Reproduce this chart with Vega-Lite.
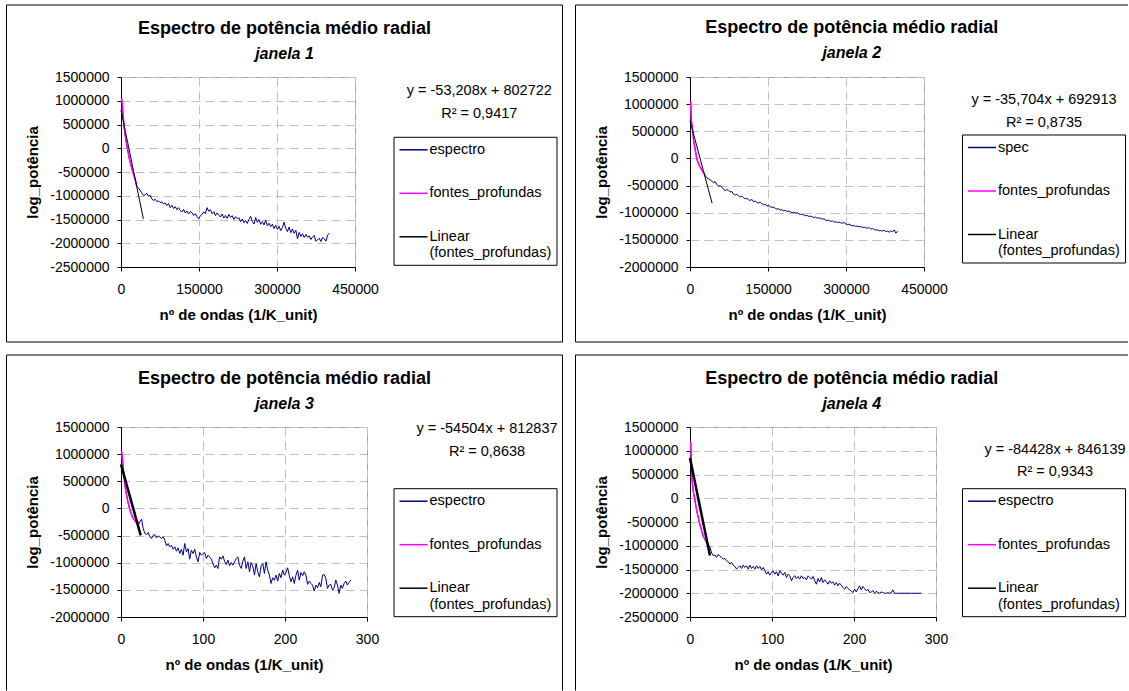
{
"$schema": "https://vega.github.io/schema/vega-lite/v6.json",
"background": "white",
"padding": {"left": 5, "top": 3, "right": 0, "bottom": 0},
"config": {
 "font": "Liberation Sans",
 "view": {"stroke": "#a0a0a0", "strokeWidth": 1},
 "axis": {"domainColor": "#000", "tickColor": "#000", "tickSize": 4, "labelColor": "#000", "labelFontSize": 14, "titleFontSize": 15, "titleFontWeight": "bold", "titleColor": "#000", "gridColor": "#c0c0c0", "gridDash": [9, 5], "labelFlush": false},
 "axisX": {"labelPadding": 11, "titlePadding": 11},
 "axisY": {"labelPadding": 8, "titlePadding": 9},
 "legend": {"orient": "none", "title": null, "strokeColor": "#000", "fillColor": "#fff", "padding": 5, "symbolType": "M-2,0H2", "symbolSize": 196, "symbolOffset": 7, "symbolStrokeWidth": 1.5, "labelFontSize": 14.5, "labelColor": "#000", "labelOffset": 8, "rowPadding": 28.5, "labelLimit": 0},
 "title": {"fontSize": 18, "fontWeight": "bold", "color": "#000", "subtitleFontSize": 16, "subtitleFontStyle": "italic", "subtitleFontWeight": "bold", "subtitleColor": "#000", "subtitlePadding": 8, "anchor": "middle", "frame": "bounds", "offset": -57},
 "text": {"fontSize": 14.5, "color": "#000"}
},
"datasets": {
 "f1": [{"x":1300,"y":1042000},{"x":2600,"y":915000},{"x":4500,"y":632000},{"x":6400,"y":420000},{"x":9000,"y":208000},{"x":11600,"y":31000},{"x":14200,"y":-111000},{"x":17400,"y":-288000},{"x":20600,"y":-415000},{"x":23800,"y":-535000},{"x":27000,"y":-642000},{"x":30300,"y":-797000},{"x":31500,"y":-818000}],
 "e1": [{"x":1300,"y":1042000},{"x":2600,"y":915000},{"x":4500,"y":632000},{"x":6400,"y":420000},{"x":9000,"y":208000},{"x":11600,"y":31000},{"x":14200,"y":-111000},{"x":17400,"y":-288000},{"x":20600,"y":-415000},{"x":23800,"y":-535000},{"x":27000,"y":-642000},{"x":30300,"y":-797000},{"x":31500,"y":-818000},
 {"x":33500,"y":-839700},{"x":36720,"y":-882100},{"x":39940,"y":-938700},{"x":43160,"y":-995300},{"x":46380,"y":-981200},{"x":49600,"y":-945800},{"x":52820,"y":-1009500},{"x":56040,"y":-988300},{"x":59260,"y":-1066100},{"x":62480,"y":-1101500},
 {"x":65700,"y":-1073200},{"x":68920,"y":-1122700},{"x":72140,"y":-1108600},{"x":75360,"y":-1144000},{"x":78580,"y":-1129800},{"x":81800,"y":-1172200},{"x":85020,"y":-1151000},{"x":88240,"y":-1207600},{"x":91460,"y":-1165100},{"x":94680,"y":-1250000},
 {"x":97900,"y":-1200500},{"x":101120,"y":-1271200},{"x":104340,"y":-1228800},{"x":107560,"y":-1292500},{"x":110780,"y":-1250000},{"x":114000,"y":-1313700},{"x":117220,"y":-1342000},{"x":120440,"y":-1285400},{"x":123660,"y":-1363200},{"x":126880,"y":-1320800},
 {"x":130100,"y":-1384500},{"x":133320,"y":-1335000},{"x":136540,"y":-1356200},{"x":139760,"y":-1412800},{"x":142980,"y":-1377400},{"x":146200,"y":-1441100},{"x":149420,"y":-1483500},{"x":152640,"y":-1419900},{"x":155860,"y":-1391600},{"x":159080,"y":-1342000},
 {"x":162300,"y":-1370300},{"x":165520,"y":-1250000},{"x":168740,"y":-1327900},{"x":171960,"y":-1292500},{"x":175180,"y":-1377400},{"x":178400,"y":-1335000},{"x":181620,"y":-1419900},{"x":184840,"y":-1363200},{"x":188060,"y":-1405700},{"x":191280,"y":-1448100},
 {"x":194500,"y":-1384500},{"x":197720,"y":-1469400},{"x":200940,"y":-1412800},{"x":204160,"y":-1476400},{"x":207380,"y":-1391600},{"x":210600,"y":-1455200},{"x":213820,"y":-1419900},{"x":217040,"y":-1497700},{"x":220260,"y":-1441100},{"x":223480,"y":-1483500},
 {"x":226700,"y":-1462300},{"x":229920,"y":-1547200},{"x":233140,"y":-1490600},{"x":236360,"y":-1568400},{"x":239580,"y":-1518900},{"x":242800,"y":-1582600},{"x":246020,"y":-1497700},{"x":249240,"y":-1434000},{"x":252460,"y":-1540100},{"x":255680,"y":-1596700},
 {"x":258900,"y":-1458900},{"x":262120,"y":-1557900},{"x":265340,"y":-1501300},{"x":268560,"y":-1600400},{"x":271780,"y":-1543800},{"x":275000,"y":-1614500},{"x":278220,"y":-1515500},{"x":281440,"y":-1628700},{"x":284660,"y":-1579200},{"x":287880,"y":-1649900},
 {"x":291100,"y":-1600400},{"x":294320,"y":-1692400},{"x":297540,"y":-1621600},{"x":300760,"y":-1706500},{"x":303980,"y":-1642900},{"x":307200,"y":-1734800},{"x":310420,"y":-1671100},{"x":313640,"y":-1557900},{"x":316860,"y":-1685300},{"x":320080,"y":-1756000},
 {"x":323300,"y":-1656900},{"x":326520,"y":-1777300},{"x":329740,"y":-1699500},{"x":332960,"y":-1791400},{"x":336180,"y":-1727700},{"x":339400,"y":-1906300},{"x":342620,"y":-1771800},{"x":345840,"y":-1856700},{"x":349060,"y":-1800200},{"x":352280,"y":-1878000},
 {"x":355500,"y":-1816000},{"x":358720,"y":-1872500},{"x":361940,"y":-1844200},{"x":365160,"y":-1922100},{"x":368380,"y":-1865600},{"x":371600,"y":-1837300},{"x":374820,"y":-1957600},{"x":378040,"y":-1929300},{"x":381260,"y":-1893900},{"x":384480,"y":-1964700},
 {"x":387700,"y":-1872500},{"x":390920,"y":-1908000},{"x":394140,"y":-1957600},{"x":397360,"y":-1830200},{"x":400580,"y":-1787700}],
 "t1": [{"x":0,"y":802722},{"x":43000,"y":-1485222}],
 "f2": [{"x":1290,"y":1049000},{"x":1930,"y":803000},{"x":3220,"y":649000},{"x":4510,"y":557000},{"x":5790,"y":464000},{"x":7080,"y":310000},{"x":9010,"y":218000},{"x":10950,"y":113000},{"x":12880,"y":2000},{"x":14810,"y":-59000},{"x":16740,"y":-108000},{"x":19310,"y":-151000},{"x":21890,"y":-195000},{"x":24460,"y":-244000},{"x":27040,"y":-275000},{"x":28970,"y":-318000},{"x":30900,"y":-342000}],
 "e2": [{"x":1290,"y":1049000},{"x":1930,"y":803000},{"x":3220,"y":649000},{"x":4510,"y":557000},{"x":5790,"y":464000},{"x":7080,"y":310000},{"x":9010,"y":218000},{"x":10950,"y":113000},{"x":12880,"y":2000},{"x":14810,"y":-59000},{"x":16740,"y":-108000},{"x":19310,"y":-151000},{"x":21890,"y":-195000},{"x":24460,"y":-244000},{"x":27040,"y":-275000},{"x":28970,"y":-318000},{"x":30900,"y":-342000},
 {"x":32190,"y":-354700},{"x":35410,"y":-373200},{"x":38630,"y":-391700},{"x":41850,"y":-416300},{"x":45070,"y":-447100},{"x":48290,"y":-428600},{"x":51500,"y":-477900},{"x":54720,"y":-514800},{"x":57940,"y":-496300},{"x":61160,"y":-533300},
 {"x":64380,"y":-557900},{"x":67600,"y":-601000},{"x":70820,"y":-570200},{"x":74040,"y":-588700},{"x":77260,"y":-619500},{"x":80480,"y":-607200},{"x":83690,"y":-656400},{"x":86910,"y":-674900},{"x":90130,"y":-662600},{"x":93350,"y":-687200},
 {"x":96570,"y":-711900},{"x":99790,"y":-693400},{"x":103010,"y":-724200},{"x":106230,"y":-742700},{"x":109450,"y":-736400},{"x":112670,"y":-761100},{"x":115880,"y":-773400},{"x":119100,"y":-754900},{"x":122320,"y":-798000},{"x":125540,"y":-785700},
 {"x":128760,"y":-810300},{"x":131980,"y":-822600},{"x":135200,"y":-804100},{"x":138420,"y":-835000},{"x":141640,"y":-853400},{"x":144860,"y":-841100},{"x":148070,"y":-878100},{"x":151290,"y":-865800},{"x":154510,"y":-890400},{"x":157730,"y":-902700},
 {"x":160950,"y":-896500},{"x":164170,"y":-921200},{"x":167390,"y":-933500},{"x":170610,"y":-927300},{"x":173830,"y":-952000},{"x":177050,"y":-945800},{"x":180260,"y":-964300},{"x":183480,"y":-958100},{"x":186700,"y":-976600},{"x":189920,"y":-970400},
 {"x":193140,"y":-983000},{"x":196360,"y":-1001200},{"x":199580,"y":-988900},{"x":202800,"y":-1007400},{"x":206020,"y":-1001200},{"x":209240,"y":-1019700},{"x":212450,"y":-1032000},{"x":215670,"y":-1025800},{"x":218890,"y":-1044300},{"x":222110,"y":-1056600},
 {"x":225330,"y":-1050500},{"x":228550,"y":-1068900},{"x":231770,"y":-1062800},{"x":234990,"y":-1075100},{"x":238210,"y":-1087400},{"x":241430,"y":-1081300},{"x":244640,"y":-1099700},{"x":247860,"y":-1093600},{"x":251080,"y":-1106000},{"x":254300,"y":-1118300},
 {"x":257520,"y":-1112100},{"x":260740,"y":-1136700},{"x":263960,"y":-1142900},{"x":267180,"y":-1136700},{"x":270400,"y":-1161300},{"x":273620,"y":-1149000},{"x":276830,"y":-1173600},{"x":280050,"y":-1167500},{"x":283270,"y":-1179800},{"x":286490,"y":-1173600},
 {"x":289710,"y":-1186000},{"x":292930,"y":-1192100},{"x":296150,"y":-1179800},{"x":299370,"y":-1204400},{"x":302590,"y":-1216800},{"x":305810,"y":-1210600},{"x":309020,"y":-1229100},{"x":312240,"y":-1241400},{"x":315460,"y":-1235200},{"x":318680,"y":-1253700},
 {"x":321900,"y":-1247500},{"x":325120,"y":-1259800},{"x":328340,"y":-1253700},{"x":331560,"y":-1272200},{"x":334780,"y":-1266000},{"x":338000,"y":-1278300},{"x":341210,"y":-1284500},{"x":344430,"y":-1272200},{"x":347650,"y":-1303200},{"x":350870,"y":-1290900},
 {"x":354090,"y":-1309400},{"x":357310,"y":-1321700},{"x":360530,"y":-1315500},{"x":363750,"y":-1334000},{"x":366970,"y":-1327900},{"x":370190,"y":-1340200},{"x":373400,"y":-1321700},{"x":376620,"y":-1346300},{"x":379840,"y":-1340200},{"x":383060,"y":-1358700},
 {"x":386280,"y":-1334000},{"x":389500,"y":-1352500},{"x":392720,"y":-1315500},{"x":395940,"y":-1377000},{"x":399160,"y":-1340200}],
 "t2": [{"x":0,"y":692913},{"x":42500,"y":-824507}],
 "f3": [{"x":0.8,"y":1049000},{"x":2.0,"y":853000},{"x":3.2,"y":669000},{"x":4.5,"y":486000},{"x":5.7,"y":333000},{"x":6.9,"y":241000},{"x":8.1,"y":149000},{"x":9.3,"y":69000},{"x":10.5,"y":-4000},{"x":11.7,"y":-65000},{"x":13.0,"y":-114000},{"x":14.2,"y":-163000},{"x":15.4,"y":-200000},{"x":17.0,"y":-224000},{"x":18.6,"y":-261000},{"x":20.2,"y":-237000},{"x":21.9,"y":-280000},{"x":23.1,"y":-249000}],
 "e3": [{"x":0.8,"y":1049000},{"x":2.0,"y":853000},{"x":3.2,"y":669000},{"x":4.5,"y":486000},{"x":5.7,"y":333000},{"x":6.9,"y":241000},{"x":8.1,"y":149000},{"x":9.3,"y":69000},{"x":10.5,"y":-4000},{"x":11.7,"y":-65000},{"x":13.0,"y":-114000},{"x":14.2,"y":-163000},{"x":15.4,"y":-200000},{"x":17.0,"y":-224000},{"x":18.6,"y":-261000},{"x":20.2,"y":-237000},{"x":21.9,"y":-280000},
 {"x":23.1,"y":-236700},{"x":25.1,"y":-199800},{"x":27.1,"y":-371400},{"x":29.2,"y":-463200},{"x":31.2,"y":-481800},{"x":33.2,"y":-445000},{"x":35.2,"y":-524500},{"x":37.2,"y":-555100},{"x":39.3,"y":-493900},{"x":41.3,"y":-481800},
 {"x":43.3,"y":-542800},{"x":45.3,"y":-506100},{"x":47.4,"y":-524500},{"x":49.4,"y":-555100},{"x":51.4,"y":-518400},{"x":53.4,"y":-585700},{"x":55.5,"y":-689800},{"x":57.5,"y":-646900},{"x":59.5,"y":-708100},{"x":61.5,"y":-677500},
 {"x":63.6,"y":-751000},{"x":65.6,"y":-708100},{"x":67.6,"y":-787700},{"x":69.6,"y":-726500},{"x":71.7,"y":-830600},{"x":73.7,"y":-751000},{"x":75.7,"y":-861200},{"x":77.7,"y":-646900},{"x":79.8,"y":-800000},{"x":81.8,"y":-738800},
 {"x":83.8,"y":-934700},{"x":85.8,"y":-769400},{"x":87.9,"y":-830600},{"x":89.9,"y":-751000},{"x":91.9,"y":-891800},{"x":93.9,"y":-983700},{"x":96.0,"y":-812200},{"x":98.0,"y":-861200},{"x":100.0,"y":-830600},{"x":102.0,"y":-812200},
 {"x":104.1,"y":-922400},{"x":106.1,"y":-861200},{"x":108.1,"y":-891800},{"x":110.1,"y":-934700},{"x":112.1,"y":-1014300},{"x":114.2,"y":-1093900},{"x":116.2,"y":-1044900},{"x":118.2,"y":-1106100},{"x":120.2,"y":-891800},{"x":122.3,"y":-934700},
 {"x":124.3,"y":-873400},{"x":126.3,"y":-971400},{"x":128.3,"y":-1032600},{"x":130.4,"y":-953000},{"x":132.4,"y":-1057100},{"x":134.4,"y":-995900},{"x":136.4,"y":-1044900},{"x":138.5,"y":-983700},{"x":140.5,"y":-922400},{"x":142.5,"y":-891800},
 {"x":144.5,"y":-1044900},{"x":146.6,"y":-1106100},{"x":148.6,"y":-971400},{"x":150.6,"y":-891800},{"x":152.6,"y":-1106100},{"x":154.7,"y":-983700},{"x":156.7,"y":-1167300},{"x":158.7,"y":-995900},{"x":160.7,"y":-1057100},{"x":162.8,"y":-1228600},
 {"x":164.8,"y":-1014300},{"x":166.8,"y":-1167300},{"x":168.8,"y":-1259200},{"x":170.9,"y":-1057100},{"x":172.9,"y":-1014300},{"x":174.9,"y":-1197900},{"x":176.9,"y":-983700},{"x":179.0,"y":-1136700},{"x":181.0,"y":-1228600},{"x":183.0,"y":-1381600},
 {"x":185.0,"y":-1277500},{"x":187.0,"y":-1320400},{"x":189.1,"y":-1228600},{"x":191.1,"y":-1338800},{"x":193.1,"y":-1197900},{"x":195.1,"y":-1277500},{"x":197.2,"y":-1136700},{"x":199.2,"y":-1228600},{"x":201.2,"y":-1179600},{"x":203.2,"y":-1093900},
 {"x":205.3,"y":-1240800},{"x":207.3,"y":-1351000},{"x":209.3,"y":-1259200},{"x":211.3,"y":-1381600},{"x":213.4,"y":-1228600},{"x":215.4,"y":-1136700},{"x":217.4,"y":-1320400},{"x":219.4,"y":-1179600},{"x":221.5,"y":-1240800},{"x":223.5,"y":-1167300},
 {"x":225.5,"y":-1228600},{"x":227.5,"y":-1400000},{"x":229.6,"y":-1338800},{"x":231.6,"y":-1381600},{"x":233.6,"y":-1412200},{"x":235.6,"y":-1522400},{"x":237.7,"y":-1412200},{"x":239.7,"y":-1461200},{"x":241.7,"y":-1363200},{"x":243.7,"y":-1442800},
 {"x":245.8,"y":-1228600},{"x":247.8,"y":-1216300},{"x":249.8,"y":-1289800},{"x":251.8,"y":-1473500},{"x":253.9,"y":-1412200},{"x":255.9,"y":-1400000},{"x":257.9,"y":-1504100},{"x":259.9,"y":-1461200},{"x":262.0,"y":-1320400},{"x":264.0,"y":-1412200},
 {"x":266.0,"y":-1565300},{"x":268.0,"y":-1412200},{"x":270.0,"y":-1473500},{"x":272.1,"y":-1381600},{"x":274.1,"y":-1338800},{"x":276.1,"y":-1412200},{"x":278.1,"y":-1363200},{"x":280.2,"y":-1320400}],
 "t3": [{"x":0,"y":812837},{"x":24,"y":-495259}],
 "f4": [{"x":0.8,"y":1190600},{"x":1.2,"y":908000},{"x":2.0,"y":626000},{"x":2.8,"y":344000},{"x":3.7,"y":167000},{"x":4.5,"y":96000},{"x":5.7,"y":-9000},{"x":6.9,"y":-136000},{"x":8.1,"y":-256000},{"x":9.7,"y":-376000},{"x":11.4,"y":-503000},{"x":13.0,"y":-609000},{"x":14.6,"y":-715000},{"x":16.2,"y":-800000},{"x":18.3,"y":-871000},{"x":20.3,"y":-927000},{"x":21.9,"y":-955000}],
 "e4": [{"x":0.8,"y":1190600},{"x":1.2,"y":908000},{"x":2.0,"y":626000},{"x":2.8,"y":344000},{"x":3.7,"y":167000},{"x":4.5,"y":96000},{"x":5.7,"y":-9000},{"x":6.9,"y":-136000},{"x":8.1,"y":-256000},{"x":9.7,"y":-376000},{"x":11.4,"y":-503000},{"x":13.0,"y":-609000},{"x":14.6,"y":-715000},{"x":16.2,"y":-800000},{"x":18.3,"y":-871000},{"x":20.3,"y":-927000},{"x":21.9,"y":-955000},
 {"x":22.3,"y":-962400},{"x":24.3,"y":-1033000},{"x":26.4,"y":-1152900},{"x":28.4,"y":-1209400},{"x":30.4,"y":-1195300},{"x":32.4,"y":-1244700},{"x":34.5,"y":-1181200},{"x":36.5,"y":-1223500},{"x":38.5,"y":-1244700},{"x":40.6,"y":-1280000},
 {"x":42.6,"y":-1265900},{"x":44.6,"y":-1315300},{"x":46.6,"y":-1336500},{"x":48.7,"y":-1385900},{"x":50.7,"y":-1350600},{"x":52.7,"y":-1407100},{"x":54.7,"y":-1435300},{"x":56.8,"y":-1491800},{"x":58.8,"y":-1456500},{"x":60.8,"y":-1421200},
 {"x":62.9,"y":-1477700},{"x":64.9,"y":-1407100},{"x":66.9,"y":-1456500},{"x":68.9,"y":-1421200},{"x":71.0,"y":-1491800},{"x":73.0,"y":-1407100},{"x":75.0,"y":-1477700},{"x":77.1,"y":-1435300},{"x":79.1,"y":-1491800},{"x":81.1,"y":-1421200},
 {"x":83.1,"y":-1477700},{"x":85.2,"y":-1435300},{"x":87.2,"y":-1506000},{"x":89.2,"y":-1456500},{"x":91.3,"y":-1527100},{"x":93.3,"y":-1597700},{"x":95.3,"y":-1548300},{"x":97.3,"y":-1618900},{"x":99.4,"y":-1562400},{"x":101.4,"y":-1527100},
 {"x":103.4,"y":-1597700},{"x":105.5,"y":-1548300},{"x":107.5,"y":-1633000},{"x":109.5,"y":-1527100},{"x":111.5,"y":-1576500},{"x":113.6,"y":-1618900},{"x":115.6,"y":-1562400},{"x":117.6,"y":-1668300},{"x":119.6,"y":-1597700},{"x":121.7,"y":-1633000},
 {"x":123.7,"y":-1738900},{"x":125.7,"y":-1668300},{"x":127.8,"y":-1633000},{"x":129.8,"y":-1689400},{"x":131.8,"y":-1647100},{"x":133.8,"y":-1703600},{"x":135.9,"y":-1633000},{"x":137.9,"y":-1689400},{"x":139.9,"y":-1668300},{"x":142.0,"y":-1717700},
 {"x":144.0,"y":-1633000},{"x":146.0,"y":-1668300},{"x":148.0,"y":-1703600},{"x":150.1,"y":-1647100},{"x":152.1,"y":-1738900},{"x":154.1,"y":-1809400},{"x":156.1,"y":-1689400},{"x":158.2,"y":-1760000},{"x":160.2,"y":-1668300},{"x":162.2,"y":-1774100},
 {"x":164.3,"y":-1717700},{"x":166.3,"y":-1760000},{"x":168.3,"y":-1809400},{"x":170.3,"y":-1738900},{"x":172.4,"y":-1788300},{"x":174.4,"y":-1760000},{"x":176.4,"y":-1830600},{"x":178.5,"y":-1774100},{"x":180.5,"y":-1844700},{"x":182.5,"y":-1788300},
 {"x":184.5,"y":-1830600},{"x":186.6,"y":-1880000},{"x":188.6,"y":-1915300},{"x":190.6,"y":-1858800},{"x":192.7,"y":-1901200},{"x":194.7,"y":-1929400},{"x":196.7,"y":-1950600},{"x":198.7,"y":-1985900},{"x":200.8,"y":-1915300},{"x":202.8,"y":-1971800},
 {"x":204.8,"y":-1901200},{"x":206.8,"y":-1844700},{"x":208.9,"y":-1929400},{"x":210.9,"y":-1858800},{"x":212.9,"y":-1901200},{"x":215.0,"y":-1950600},{"x":217.0,"y":-1915300},{"x":219.0,"y":-1985900},{"x":221.0,"y":-1971800},{"x":223.1,"y":-1943500},
 {"x":225.1,"y":-2000000},{"x":227.1,"y":-1957600},{"x":229.2,"y":-1985900},{"x":231.2,"y":-2000000},{"x":233.2,"y":-1971800},{"x":235.2,"y":-1985900},{"x":237.3,"y":-2000000},{"x":239.3,"y":-2000000},{"x":241.3,"y":-1985900},{"x":243.4,"y":-2000000},
 {"x":245.4,"y":-1985900},{"x":247.4,"y":-1929400},{"x":249.4,"y":-2000000},{"x":251.5,"y":-2000000},{"x":260.0,"y":-2000000},{"x":270.0,"y":-2000000},{"x":282.0,"y":-2000000}],
 "t4": [{"x":0,"y":846139},{"x":24.3,"y":-1205461}]
},
"spacing": 9,
"resolve": {"scale": {"x": "independent", "y": "independent", "color": "independent"}, "legend": {"color": "independent"}},
"vconcat": [
 {"spacing": 10,
  "resolve": {"scale": {"x": "independent", "y": "independent", "color": "independent"}, "legend": {"color": "independent"}},
  "hconcat": [
  {"width": 234, "height": 190,
   "title": {"text": "Espectro de potência médio radial", "subtitle": "janela 1"},
   "resolve": {"axis": {"x": "independent", "y": "independent"}},
   "layer": [
    {"data": {"name": "e1"}, "mark": {"type": "line", "strokeWidth": 1},
     "encoding": {
      "x": {"field": "x", "type": "quantitative", "scale": {"domain": [0, 450000], "nice": false}, "axis": {"values": [0, 150000, 300000, 450000], "title": "nº de ondas (1/K_unit)", "labelExpr": "'' + datum.value", "labelOverlap": false}},
      "y": {"field": "y", "type": "quantitative", "scale": {"domain": [-2500000, 1500000], "nice": false}, "axis": {"values": [-2500000, -2000000, -1500000, -1000000, -500000, 0, 500000, 1000000, 1500000], "title": "log_potência", "labelExpr": "'' + datum.value", "labelOverlap": false}},
      "color": {"datum": "espectro", "type": "nominal", "scale": {"domain": ["espectro", "fontes_profundas", "Linear (fontes_profundas)"], "range": ["#000080", "#ff00ff", "#000000"]}, "legend": {"legendX": 272.5, "legendY": 59.8, "labelExpr": "datum.label == 'Linear (fontes_profundas)' ? ['Linear', '(fontes_profundas)'] : datum.label"}}}},
    {"data": {"name": "f1"}, "mark": {"type": "line", "strokeWidth": 1.5}, "encoding": {"x": {"field": "x", "type": "quantitative", "axis": null}, "y": {"field": "y", "type": "quantitative", "axis": null}, "color": {"datum": "fontes_profundas", "type": "nominal"}}},
    {"data": {"name": "t1"}, "mark": {"type": "line", "strokeWidth": 1}, "encoding": {"x": {"field": "x", "type": "quantitative", "axis": null}, "y": {"field": "y", "type": "quantitative", "axis": null}, "color": {"datum": "Linear (fontes_profundas)", "type": "nominal"}}},
    {"data": {"values": [{}]}, "mark": {"type": "rect", "filled": false, "color": "#000", "strokeWidth": 1}, "encoding": {"x": {"datum": -220192, "type": "quantitative", "axis": null}, "x2": {"datum": 849038}, "y": {"datum": 3015789, "type": "quantitative", "axis": null}, "y2": {"datum": -4078947}}},
    {"data": {"values": [{"t": "y = -53,208x + 802722"}]}, "mark": {"type": "text"}, "encoding": {"x": {"datum": 689039, "type": "quantitative", "axis": null}, "y": {"datum": 1211579, "type": "quantitative", "axis": null}, "text": {"field": "t"}}},
    {"data": {"values": [{"t": "R² = 0,9417"}]}, "mark": {"type": "text"}, "encoding": {"x": {"datum": 689039, "type": "quantitative", "axis": null}, "y": {"datum": 721053, "type": "quantitative", "axis": null}, "text": {"field": "t"}}}
   ]},
  {"width": 234, "height": 190,
   "title": {"text": "Espectro de potência médio radial", "subtitle": "janela 2"},
   "resolve": {"axis": {"x": "independent", "y": "independent"}},
   "layer": [
    {"data": {"name": "e2"}, "mark": {"type": "line", "strokeWidth": 1},
     "encoding": {
      "x": {"field": "x", "type": "quantitative", "scale": {"domain": [0, 450000], "nice": false}, "axis": {"values": [0, 150000, 300000, 450000], "title": "nº de ondas (1/K_unit)", "labelExpr": "'' + datum.value", "labelOverlap": false}},
      "y": {"field": "y", "type": "quantitative", "scale": {"domain": [-2000000, 1500000], "nice": false}, "axis": {"values": [-2000000, -1500000, -1000000, -500000, 0, 500000, 1000000, 1500000], "title": "log_potência", "labelExpr": "'' + datum.value", "labelOverlap": false}},
      "color": {"datum": "spec", "type": "nominal", "scale": {"domain": ["spec", "fontes_profundas", "Linear (fontes_profundas)"], "range": ["#000080", "#ff00ff", "#000000"]}, "legend": {"legendX": 272, "legendY": 57.5, "labelExpr": "datum.label == 'Linear (fontes_profundas)' ? ['Linear', '(fontes_profundas)'] : datum.label"}}}},
    {"data": {"name": "f2"}, "mark": {"type": "line", "strokeWidth": 1.5}, "encoding": {"x": {"field": "x", "type": "quantitative", "axis": null}, "y": {"field": "y", "type": "quantitative", "axis": null}, "color": {"datum": "fontes_profundas", "type": "nominal"}}},
    {"data": {"name": "t2"}, "mark": {"type": "line", "strokeWidth": 1}, "encoding": {"x": {"field": "x", "type": "quantitative", "axis": null}, "y": {"field": "y", "type": "quantitative", "axis": null}, "color": {"datum": "Linear (fontes_profundas)", "type": "nominal"}}},
    {"data": {"values": [{}]}, "mark": {"type": "rule", "color": "#000", "strokeWidth": 1}, "encoding": {"x": {"datum": -220192, "type": "quantitative", "axis": null}, "x2": {"datum": 842308}, "y": {"datum": 2826316, "type": "quantitative", "axis": null}}},
    {"data": {"values": [{}]}, "mark": {"type": "rule", "color": "#000", "strokeWidth": 1}, "encoding": {"x": {"datum": -220192, "type": "quantitative", "axis": null}, "x2": {"datum": 842308}, "y": {"datum": -3381579, "type": "quantitative", "axis": null}}},
    {"data": {"values": [{}]}, "mark": {"type": "rule", "color": "#000", "strokeWidth": 1}, "encoding": {"x": {"datum": -220192, "type": "quantitative", "axis": null}, "y": {"datum": 2826316, "type": "quantitative", "axis": null}, "y2": {"datum": -3381579}}},
    {"data": {"values": [{"t": "y = -35,704x + 692913"}]}, "mark": {"type": "text"}, "encoding": {"x": {"datum": 680769, "type": "quantitative", "axis": null}, "y": {"datum": 1076316, "type": "quantitative", "axis": null}, "text": {"field": "t"}}},
    {"data": {"values": [{"t": "R² = 0,8735"}]}, "mark": {"type": "text"}, "encoding": {"x": {"datum": 680769, "type": "quantitative", "axis": null}, "y": {"datum": 647105, "type": "quantitative", "axis": null}, "text": {"field": "t"}}}
   ]}
  ]},
 {"spacing": 10,
  "resolve": {"scale": {"x": "independent", "y": "independent", "color": "independent"}, "legend": {"color": "independent"}},
  "hconcat": [
  {"width": 246, "height": 190,
   "title": {"text": "Espectro de potência médio radial", "subtitle": "janela 3"},
   "resolve": {"axis": {"x": "independent", "y": "independent"}},
   "layer": [
    {"data": {"name": "e3"}, "mark": {"type": "line", "strokeWidth": 1},
     "encoding": {
      "x": {"field": "x", "type": "quantitative", "scale": {"domain": [0, 300], "nice": false}, "axis": {"values": [0, 100, 200, 300], "title": "nº de ondas (1/K_unit)", "labelExpr": "'' + datum.value", "labelOverlap": false}},
      "y": {"field": "y", "type": "quantitative", "scale": {"domain": [-2000000, 1500000], "nice": false}, "axis": {"values": [-2000000, -1500000, -1000000, -500000, 0, 500000, 1000000, 1500000], "title": "log_potência", "labelExpr": "'' + datum.value", "labelOverlap": false}},
      "color": {"datum": "espectro", "type": "nominal", "scale": {"domain": ["espectro", "fontes_profundas", "Linear (fontes_profundas)"], "range": ["#000080", "#ff00ff", "#000000"]}, "legend": {"legendX": 272.5, "legendY": 61.2, "labelExpr": "datum.label == 'Linear (fontes_profundas)' ? ['Linear', '(fontes_profundas)'] : datum.label"}}}},
    {"data": {"name": "f3"}, "mark": {"type": "line", "strokeWidth": 1.5}, "encoding": {"x": {"field": "x", "type": "quantitative", "axis": null}, "y": {"field": "y", "type": "quantitative", "axis": null}, "color": {"datum": "fontes_profundas", "type": "nominal"}}},
    {"data": {"name": "t3"}, "mark": {"type": "line", "strokeWidth": 2.5}, "encoding": {"x": {"field": "x", "type": "quantitative", "axis": null}, "y": {"field": "y", "type": "quantitative", "axis": null}, "color": {"datum": "Linear (fontes_profundas)", "type": "nominal"}}},
    {"data": {"values": [{}]}, "mark": {"type": "rule", "color": "#000", "strokeWidth": 1}, "encoding": {"x": {"datum": -139.634, "type": "quantitative", "axis": null}, "x2": {"datum": 538.415}, "y": {"datum": 2826316, "type": "quantitative", "axis": null}}},
    {"data": {"values": [{}]}, "mark": {"type": "rule", "color": "#000", "strokeWidth": 1}, "encoding": {"x": {"datum": -139.634, "type": "quantitative", "axis": null}, "y": {"datum": 2826316, "type": "quantitative", "axis": null}, "y2": {"datum": -3353947}}},
    {"data": {"values": [{}]}, "mark": {"type": "rule", "color": "#000", "strokeWidth": 1}, "encoding": {"x": {"datum": 538.415, "type": "quantitative", "axis": null}, "y": {"datum": 2826316, "type": "quantitative", "axis": null}, "y2": {"datum": -3353947}}},
    {"data": {"values": [{"t": "y = -54504x + 812837"}]}, "mark": {"type": "text"}, "encoding": {"x": {"datum": 446.34, "type": "quantitative", "axis": null}, "y": {"datum": 1466842, "type": "quantitative", "axis": null}, "text": {"field": "t"}}},
    {"data": {"values": [{"t": "R² = 0,8638"}]}, "mark": {"type": "text"}, "encoding": {"x": {"datum": 446.34, "type": "quantitative", "axis": null}, "y": {"datum": 1048684, "type": "quantitative", "axis": null}, "text": {"field": "t"}}}
   ]},
  {"width": 246, "height": 190,
   "title": {"text": "Espectro de potência médio radial", "subtitle": "janela 4"},
   "resolve": {"axis": {"x": "independent", "y": "independent"}},
   "layer": [
    {"data": {"name": "e4"}, "mark": {"type": "line", "strokeWidth": 1},
     "encoding": {
      "x": {"field": "x", "type": "quantitative", "scale": {"domain": [0, 300], "nice": false}, "axis": {"values": [0, 100, 200, 300], "title": "nº de ondas (1/K_unit)", "labelExpr": "'' + datum.value", "labelOverlap": false}},
      "y": {"field": "y", "type": "quantitative", "scale": {"domain": [-2500000, 1500000], "nice": false}, "axis": {"values": [-2500000, -2000000, -1500000, -1000000, -500000, 0, 500000, 1000000, 1500000], "title": "log_potência", "labelExpr": "'' + datum.value", "labelOverlap": false}},
      "color": {"datum": "espectro", "type": "nominal", "scale": {"domain": ["espectro", "fontes_profundas", "Linear (fontes_profundas)"], "range": ["#000080", "#ff00ff", "#000000"]}, "legend": {"legendX": 272, "legendY": 61.2, "labelExpr": "datum.label == 'Linear (fontes_profundas)' ? ['Linear', '(fontes_profundas)'] : datum.label"}}}},
    {"data": {"name": "f4"}, "mark": {"type": "line", "strokeWidth": 1.5}, "encoding": {"x": {"field": "x", "type": "quantitative", "axis": null}, "y": {"field": "y", "type": "quantitative", "axis": null}, "color": {"datum": "fontes_profundas", "type": "nominal"}}},
    {"data": {"name": "t4"}, "mark": {"type": "line", "strokeWidth": 2.5}, "encoding": {"x": {"field": "x", "type": "quantitative", "axis": null}, "y": {"field": "y", "type": "quantitative", "axis": null}, "color": {"datum": "Linear (fontes_profundas)", "type": "nominal"}}},
    {"data": {"values": [{}]}, "mark": {"type": "rule", "color": "#000", "strokeWidth": 1}, "encoding": {"x": {"datum": -139.634, "type": "quantitative", "axis": null}, "x2": {"datum": 534.146}, "y": {"datum": 3015789, "type": "quantitative", "axis": null}}},
    {"data": {"values": [{}]}, "mark": {"type": "rule", "color": "#000", "strokeWidth": 1}, "encoding": {"x": {"datum": -139.634, "type": "quantitative", "axis": null}, "y": {"datum": 3015789, "type": "quantitative", "axis": null}, "y2": {"datum": -4047368}}},
    {"data": {"values": [{"t": "y = -84428x + 846139"}]}, "mark": {"type": "text"}, "encoding": {"x": {"datum": 445.12, "type": "quantitative", "axis": null}, "y": {"datum": 1026316, "type": "quantitative", "axis": null}, "text": {"field": "t"}}},
    {"data": {"values": [{"t": "R² = 0,9343"}]}, "mark": {"type": "text"}, "encoding": {"x": {"datum": 445.12, "type": "quantitative", "axis": null}, "y": {"datum": 548421, "type": "quantitative", "axis": null}, "text": {"field": "t"}}}
   ]}
  ]}
]
}
